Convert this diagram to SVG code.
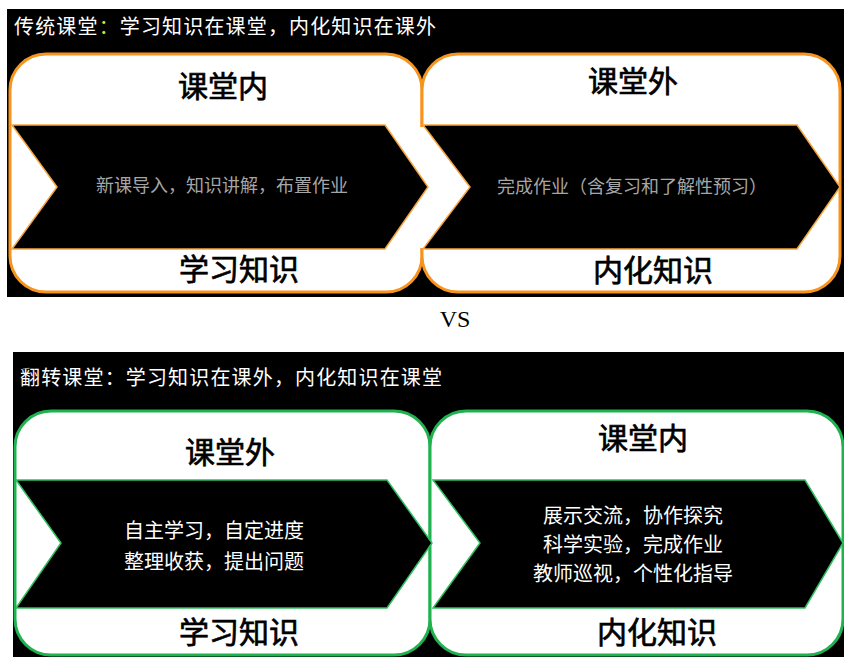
<svg xmlns="http://www.w3.org/2000/svg" width="844" height="657" viewBox="0 0 844 657">
<style>
.cjk{font-family:"Noto Sans CJK SC","Noto Sans",sans-serif}
.title{font-size:20px;fill:#ffffff}
.lbl{font-size:30px;fill:#000000;text-anchor:middle;stroke:#000000;stroke-width:0.7}
.mid-t{font-size:18px;fill:#a6a6a6;text-anchor:middle}
.mid-b{font-size:20px;fill:#ffffff;text-anchor:middle}
.box-o{fill:#ffffff;stroke:#f7941d;stroke-width:3}
.box-g{fill:#ffffff;stroke:#1fb24f;stroke-width:3}
.chev-o{fill:#000000;stroke:#f7a540;stroke-width:1.5}
.chev-g{fill:#000000;stroke:#2fbf5f;stroke-width:1.5}
</style>
<rect x="0" y="0" width="844" height="657" fill="#ffffff"/>
<!-- Top panel -->
<g id="traditional">
<rect x="7" y="9" width="837" height="288" fill="#000000"/>
<text class="cjk title" x="14" y="34" textLength="422" lengthAdjust="spacing">传统课堂<tspan fill="#c8e632">：</tspan>学习知识在课堂，内化知识在课外</text>
<g id="t-in">
<rect class="box-o" x="10" y="54" width="412" height="238" rx="36" ry="36"/>
</g>
<g id="t-out">
<rect class="box-o" x="422" y="54" width="418" height="238" rx="36" ry="36"/>
</g>
<rect x="414" y="127" width="18" height="121" fill="#ffffff"/>
<g id="t-chev1">
<polygon class="chev-o" points="12,125 385,125 428,187 385,249 12,249 57,187"/>
<text class="cjk mid-t" x="222" y="192">新课导入，知识讲解，布置作业</text>
</g>
<g id="t-chev2">
<polygon class="chev-o" points="423,125 797,125 840,187 797,249 423,249 470,187"/>
<text class="cjk mid-t" x="632" y="193">完成作业（含复习和了解性预习）</text>
</g>
<text class="cjk lbl" x="223" y="97">课堂内</text>
<text class="cjk lbl" x="239" y="280">学习知识</text>
<text class="cjk lbl" x="633" y="92">课堂外</text>
<text class="cjk lbl" x="653" y="281">内化知识</text>
</g>
<text x="455" y="327" font-family="Liberation Serif, serif" font-size="24" fill="#000000" text-anchor="middle">VS</text>
<!-- Bottom panel -->
<g id="flipped">
<rect x="13" y="352" width="831" height="305" fill="#000000"/>
<text class="cjk title" x="20" y="385" textLength="422" lengthAdjust="spacing">翻转课堂：学习知识在课外，内化知识在课堂</text>
<g id="b-out">
<rect class="box-g" x="15" y="411" width="415" height="244" rx="36" ry="36"/>
</g>
<g id="b-in">
<rect class="box-g" x="430" y="411" width="413" height="244" rx="36" ry="36"/>
</g>
<g id="b-chev1">
<polygon class="chev-g" points="16,480 387,480 432,543 387,608 16,608 61,543"/>
<text class="cjk mid-b" x="214" y="538">自主学习，自定进度</text>
<text class="cjk mid-b" x="214" y="569">整理收获，提出问题</text>
</g>
<g id="b-chev2">
<polygon class="chev-g" points="433,480 805,480 843,543 805,608 433,608 480,543"/>
<text class="cjk mid-b" x="633" y="523">展示交流，协作探究</text>
<text class="cjk mid-b" x="633" y="552">科学实验，完成作业</text>
<text class="cjk mid-b" x="633" y="581">教师巡视，个性化指导</text>
</g>
<text class="cjk lbl" x="230" y="463">课堂外</text>
<text class="cjk lbl" x="239" y="643">学习知识</text>
<text class="cjk lbl" x="643" y="449">课堂内</text>
<text class="cjk lbl" x="657" y="643">内化知识</text>
</g>
</svg>
